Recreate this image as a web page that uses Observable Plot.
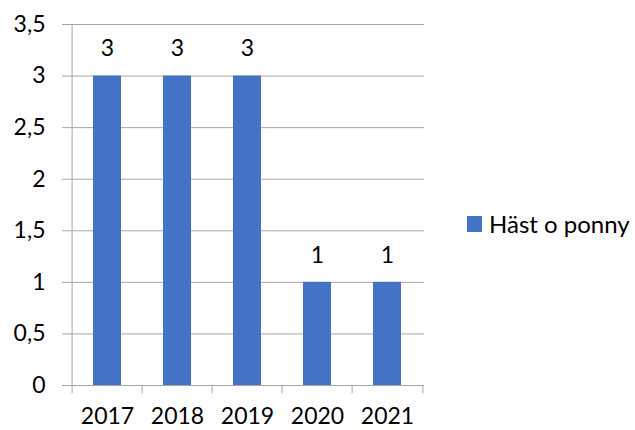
<!DOCTYPE html>
<html>
<head>
<meta charset="utf-8">
<script src="https://cdn.jsdelivr.net/npm/d3@7"></script>
<script src="https://cdn.jsdelivr.net/npm/@observablehq/plot@0.6"></script>
<style>
  html, body { margin: 0; padding: 0; background: #fff; }
  #wrap { position: relative; width: 635px; height: 430px; font-family: Lato, "Open Sans", sans-serif; }
  #legend { position: absolute; left: 467px; top: 209px; display: flex; align-items: center; font-size: 24px; color: #000; }
  #legend .sw { width: 15px; height: 16px; background: #4472C4; margin-right: 7px; }
</style>
</head>
<body>
<div id="wrap">
  <div id="chart"></div>
  <div id="legend"><span class="sw"></span><span id="legend-label"></span></div>
</div>
<script>
const years = ["2017", "2018", "2019", "2020", "2021"];
const values = [3, 3, 3, 1, 1];
const seriesName = "Häst o ponny";
const yTicks = [0, 0.5, 1, 1.5, 2, 2.5, 3, 3.5];

const data = years.map((y, i) => ({year: y, value: values[i]}));

const W = 635, H = 430, ML = 70, MR = 211, MT = 24, MB = 45;
const step = (W - ML - MR) / years.length;
const gray = "#a6a6a6";
const fmt = d => String(d).replace(".", ",");

const chart = Plot.plot({
  width: W,
  height: H,
  marginLeft: ML,
  marginRight: MR,
  marginTop: MT,
  marginBottom: MB,
  style: {fontFamily: "Lato, 'Open Sans', sans-serif", fontSize: "23px", color: "#000", background: "#fff"},
  x: {type: "band", domain: years, paddingInner: 0.6, paddingOuter: 0.3, label: null},
  y: {domain: [0, 3.5], label: null},
  marks: [
    Plot.ruleY(yTicks, {stroke: gray, strokeWidth: 1}),
    Plot.barY(data, {x: "year", y: "value", fill: "#4472C4"}),
    Plot.text(data, {x: "year", y: "value", text: d => fmt(d.value), dy: -27, fontSize: 23, fill: "#000"}),
    // category boundary ticks below the axis
    Plot.ruleX(years, {x: d => d, dx: -step / 2, y1: -0.08, y2: 0, stroke: gray}),
    Plot.ruleX([years[years.length - 1]], {x: d => d, dx: step / 2, y1: -0.08, y2: 0, stroke: gray}),
    // vertical axis line
    Plot.ruleX([years[0]], {x: d => d, dx: -step / 2, y1: 0, y2: 3.5, stroke: gray}),
    Plot.axisY({ticks: yTicks, tickSize: 8, tickPadding: 17, tickFormat: fmt, stroke: gray, fill: "#000", fontSize: 23}),
    Plot.axisX({tickSize: 0, tickPadding: 22, fill: "#000", fontSize: 23})
  ]
});
document.getElementById("chart").appendChild(chart);
document.getElementById("legend-label").textContent = seriesName;
</script>
</body>
</html>
